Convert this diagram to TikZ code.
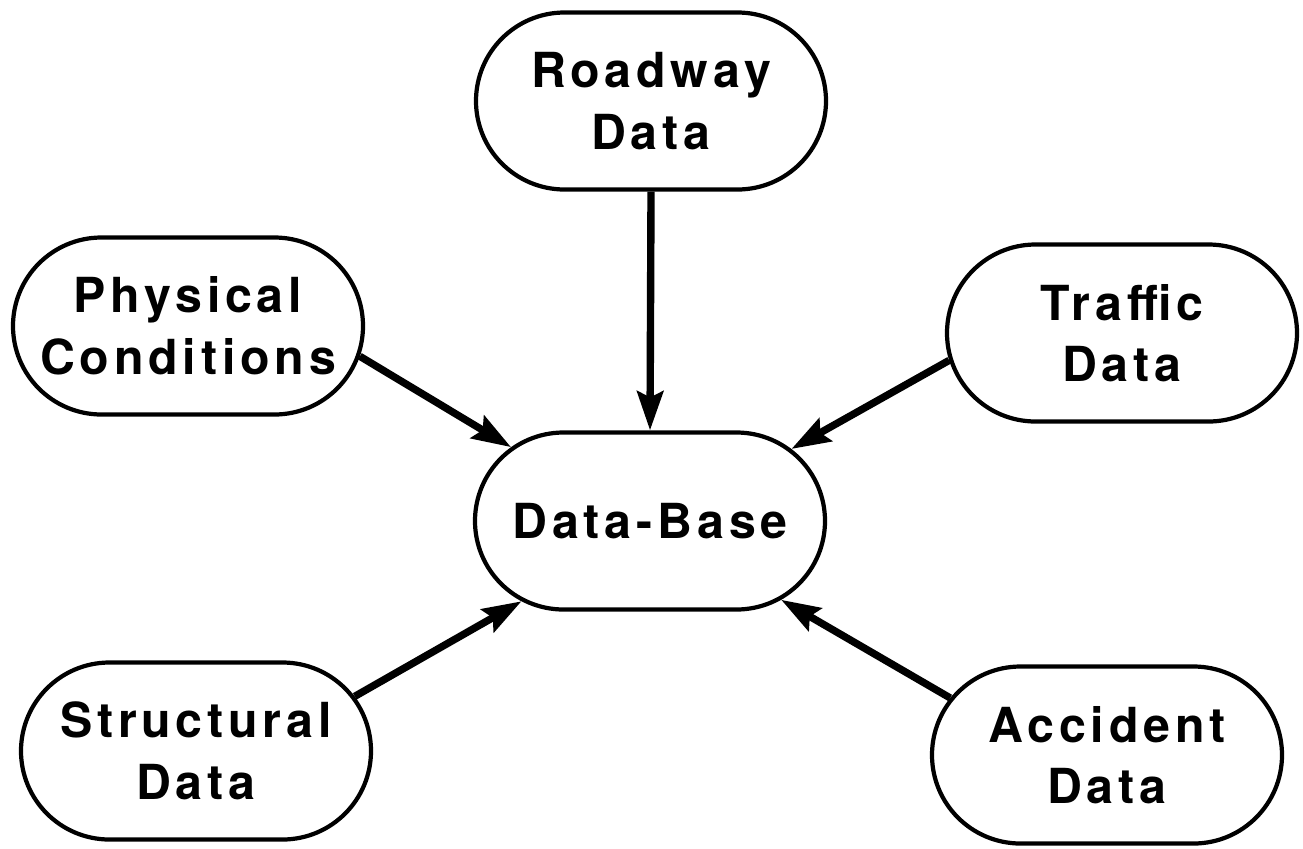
\documentclass[tikz,border=0pt]{standalone}
\usepackage{fontspec}
\setsansfont{TeX Gyre Heros}[LetterSpace=10]
\usepackage{tikz}
\usetikzlibrary{positioning,arrows.meta,shapes.misc}

\begin{document}
\begin{tikzpicture}[
    source/.style={draw, line width=2.4pt, rounded rectangle, minimum width=7.0cm, minimum height=3.54cm, align=center, font=\fontsize{27.5}{35}\selectfont\sffamily\bfseries, inner sep=0pt},
    arrow/.style={-{Stealth[length=0.78cm, width=0.52cm, inset=0.12cm]}, line width=4.2pt},
]
\useasboundingbox (0,0) rectangle (26.06,-16.96);

\node[source] (road) at (13.02,-2.02) {Roadway\\Data};
\node[source] (phys) at (3.76,-6.52) {Physical\\Conditions};
\node[source] (traffic) at (22.44,-6.66) {Traffic\\Data};
\node[source] (base) at (13.0,-10.42) {Data-Base};
\node[source] (struct) at (3.92,-15.02) {Structural\\Data};
\node[source] (accident) at (22.14,-15.10) {Accident\\Data};

\foreach \n/\from/\to in {road/-90/90, phys/-10.5/152, traffic/189/27.5, struct/19.6/-148, accident/160/-31.5} {
    \draw[arrow] (\n.\from) -- (base.\to);
}
\end{tikzpicture}
\end{document}
